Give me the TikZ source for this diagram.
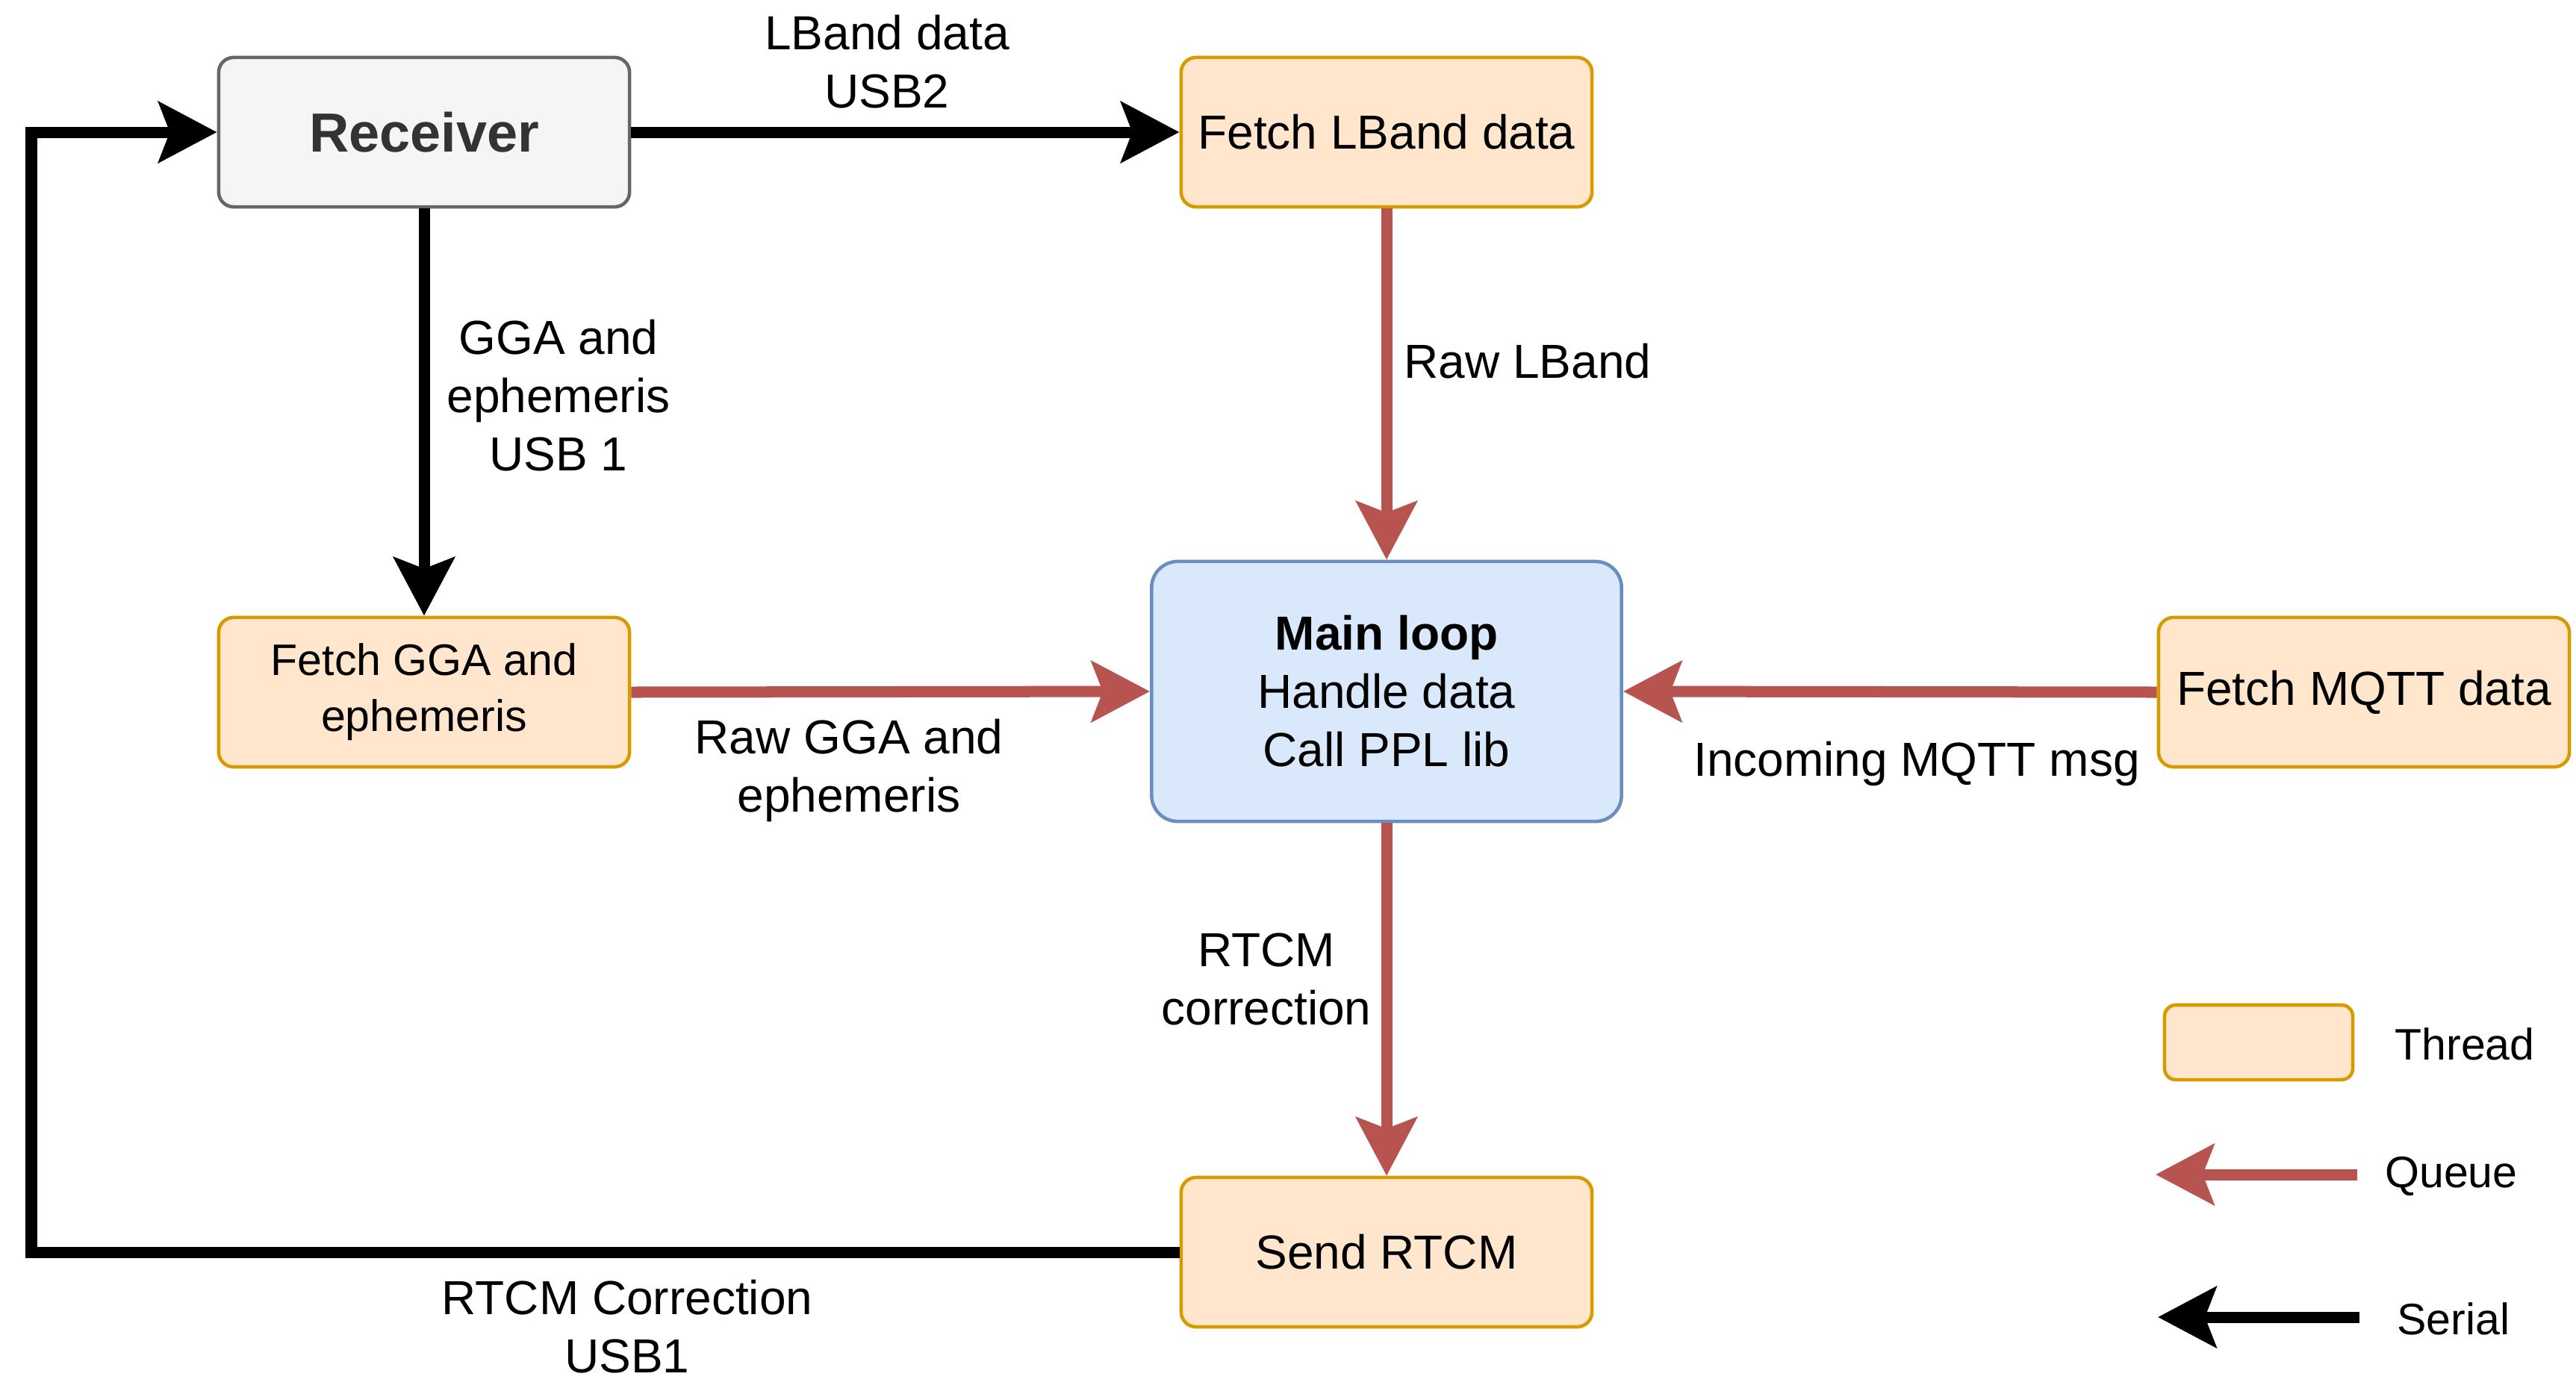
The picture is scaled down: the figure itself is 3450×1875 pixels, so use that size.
\documentclass[tikz,border=0pt]{standalone}
\usepackage{fontspec}
\setmainfont{Liberation Sans}
\usetikzlibrary{arrows.meta}
\definecolor{thrfill}{HTML}{FFE6CC}
\definecolor{thrdraw}{HTML}{D79B00}
\definecolor{recfill}{HTML}{F5F5F5}
\definecolor{recdraw}{HTML}{666666}
\definecolor{rectext}{HTML}{333333}
\definecolor{mainfill}{HTML}{DAE8FC}
\definecolor{maindraw}{HTML}{6C8EBF}
\definecolor{queuecol}{HTML}{B85450}
\tikzset{
  fbig/.style={font=\fontsize{18.2}{22.2}\selectfont},
  fsmall/.style={font=\fontsize{16.8}{21.3}\selectfont},
  thread/.style={draw=thrdraw, fill=thrfill, line width=1.3pt, rounded corners=0.2cm,
    minimum width=5.5cm, minimum height=2cm, align=center, inner sep=0pt},
  recbox/.style={draw=recdraw, fill=recfill, line width=1.3pt, rounded corners=0.2cm,
    minimum width=5.5cm, minimum height=2cm, align=center, inner sep=0pt, text=rectext,
    font=\fontsize{21}{25}\selectfont\bfseries},
  mainbox/.style={draw=maindraw, fill=mainfill, line width=1.3pt, rounded corners=0.35cm,
    minimum width=6.29cm, minimum height=3.48cm, align=center, inner sep=0pt},
  lbl/.style={fbig, align=center, inner sep=0pt},
  tipx/.style={-{Stealth[length=0.78cm,width=0.81cm,inset=0.15cm]}},
  serial/.style={tipx, line width=0.15cm, draw=black},
  queue/.style={tipx, line width=0.15cm, draw=queuecol, color=queuecol},
}
\begin{document}
\begin{tikzpicture}[x=0.01cm,y=-0.01cm]
\useasboundingbox (0,0) rectangle (3450,1875);
\fill[white] (0,0) rectangle (3450,1875);

\node[recbox] (rec) at (568,177) {Receiver};
\node[thread, fbig] (flb) at (1857,177) {Fetch LBand data};
\node[thread, fsmall] (fgga) at (568,927) {Fetch GGA and\\ephemeris};
\node[mainbox, fbig] (main) at (1857,926) {\textbf{Main loop}\\Handle data\\Call PPL lib};
\node[thread, fbig] (fmq) at (3166,927) {Fetch MQTT data};
\node[thread, fbig] (send) at (1857,1677) {Send RTCM};

\coordinate (lft) at (42,927);

\draw[serial] (rec.east) -- (flb.west);
\draw[serial] (rec.south) -- (fgga.north);
\draw[queue] (flb.south) -- (main.north);
\draw[queue] (fgga.east) -- (main.west);
\draw[queue] (fmq.west) -- (main.east);
\draw[queue] (main.south) -- (send.north);
\draw[serial] (send.west) -| (lft) |- (rec.west);

\node[lbl] (l1) at (1188,83) {LBand data\\USB2};
\node[lbl] (l2) at (748,530) {GGA and\\ephemeris\\USB 1};
\node[lbl] (l3) at (2046,484) {Raw LBand};
\node[lbl] (l4) at (1137,1032) {Raw GGA and\\ephemeris};
\node[lbl] (l5) at (2567,1023) {Incoming MQTT msg};
\node[lbl] (l6) at (1696,1311) {RTCM\\correction};
\node[lbl] (l7) at (840,1777) {RTCM Correction\\USB1};

% legend
\node[thread, minimum width=2.52cm, minimum height=1.0cm, rounded corners=0.15cm] (lgbox) at (3025,1396) {};
\node[fsmall, inner sep=0pt] (lgt) at (3301,1398) {Thread};
\coordinate (qa) at (3157,1573);
\coordinate (qb) at (2887,1573);
\draw[queue] (qa) -- (qb);
\node[fsmall, inner sep=0pt] (lgq) at (3283,1575) {Queue};
\coordinate (sa) at (3160,1764);
\coordinate (sb) at (2890,1764);
\draw[serial] (sa) -- (sb);
\node[fsmall, inner sep=0pt] (lgs) at (3286,1766) {Serial};
\end{tikzpicture}
\end{document}
